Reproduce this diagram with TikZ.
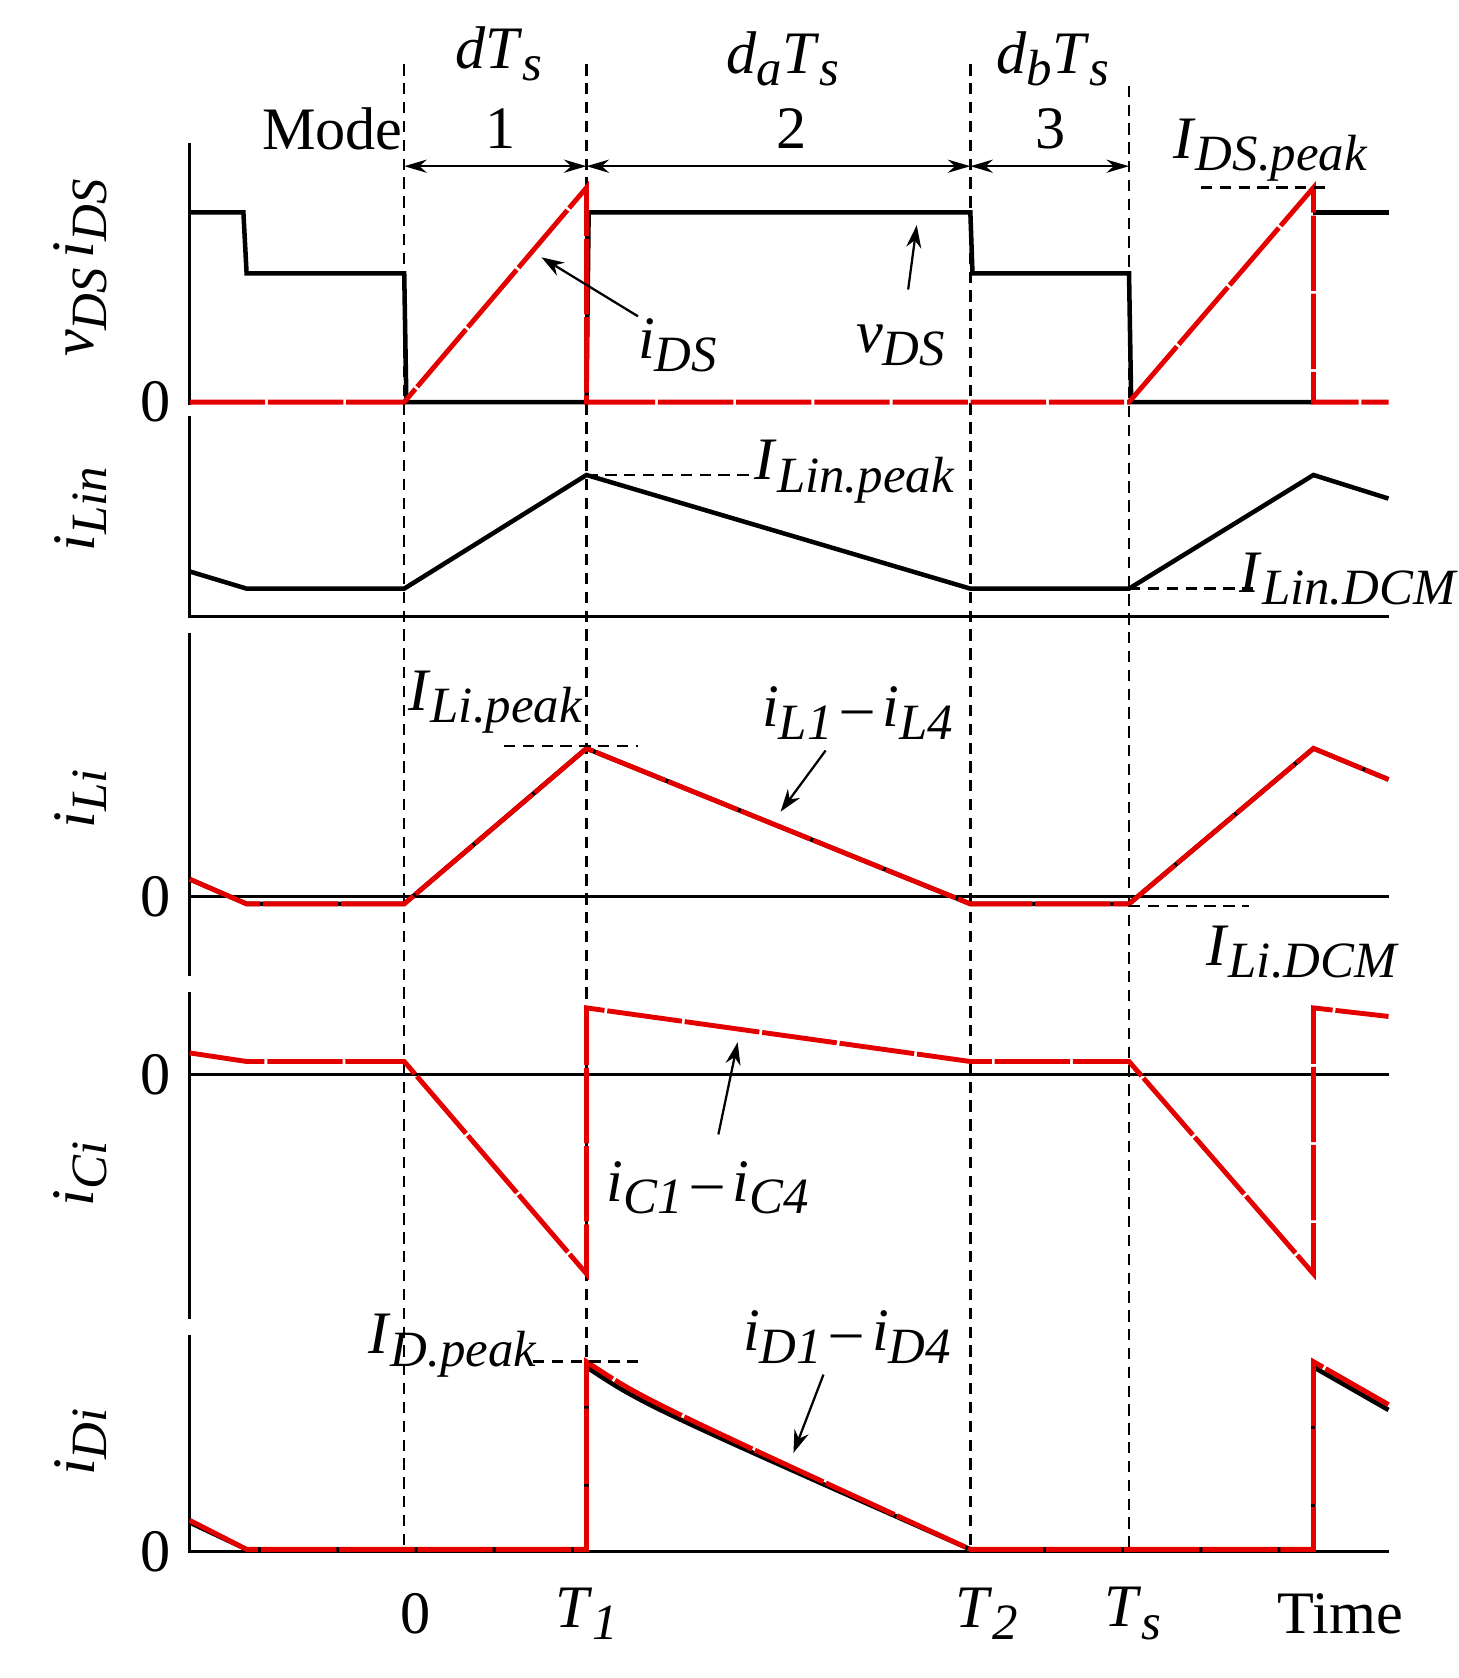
\documentclass[tikz,border=0pt]{standalone}
\usepackage{fontspec}
\setmainfont{Liberation Serif}
\usetikzlibrary{arrows.meta}
\newcommand{\myss}[2]{\textit{#1}\raisebox{-.45ex}{\fontsize{27}{29}\selectfont\textit{#2}}}
\begin{document}
\begin{tikzpicture}[x=0.02cm,y=-0.02cm,
 blk/.style={line width=2.4pt,black},
 red/.style={line width=2.6pt,red!90!black,dash pattern=on 40pt off 1.5pt},
 ax/.style={line width=1.6pt,black},
 zl/.style={line width=1.3pt,black},
 vd/.style={line width=1.3pt,black,dash pattern=on 6pt off 4pt},
 hd/.style={line width=1.3pt,black,dash pattern=on 6pt off 4pt},
 arr/.style={line width=1.2pt,-{Stealth[length=12pt,width=8pt]}},
 dim/.style={line width=1.2pt,{Stealth[length=12pt,width=7pt]}-{Stealth[length=12pt,width=7pt]}},
 lab/.style={font=\fontsize{32}{34}\selectfont, inner sep=0pt}]
\useasboundingbox (0,0) rectangle (1360,1565);
% axes
\draw[ax] (177,133)--(177,378);
\draw[ax] (177,388)--(177,575)--(1295,575);
\draw[ax] (177,590)--(177,910);
\draw[ax] (177,925)--(177,1230);
\draw[ax] (177,1245)--(177,1447)--(1295,1447);
\draw[zl] (177,836)--(1295,836);
\draw[zl] (177,1002)--(1295,1002);
% verticals
\foreach \x/\t in {377/60,547/60,905/60,1053/80} \draw[vd] (\x,\t)--(\x,1447);
% dims
\draw[dim] (377,155)--(547,155);
\draw[dim] (547,155)--(905,155);
\draw[dim] (905,155)--(1053,155);
\node[lab] at (465,50) {\myss{dT}{s}};
\node[lab] at (467,120) {1};
\node[lab] at (730,55) {\myss{d}{a}\myss{T}{s}};
\node[lab] at (738,120) {2};
\node[lab] at (982,55) {\myss{d}{b}\myss{T}{s}};
\node[lab] at (980,120) {3};
\node[lab] at (310,120) {Mode};
% panel 1
\draw[blk] (177,198)--(227,198)--(230,255)--(377,255)--(379,375)--(547,375);
\draw[blk] (547,375)--(549,198)--(905,198)--(907,255)--(1053,255)--(1055,375)--(1225,375);
\draw[blk] (1225,198)--(1295,198);
\draw[red] (177,375)--(377,375)--(547,175)--(547,375)--(1053,375)--(1225,175)--(1225,375)--(1295,375);
\draw[hd] (1120,175)--(1240,175);
\node[lab] at (1185,140) {\myss{I}{DS.peak}};
\node[lab] at (632,322) {\myss{i}{DS}};
\draw[arr] (595,295)--(505,240);
\node[lab] at (840,322) {\myss{v}{DS}};
\draw[arr] (847,270)--(855,210);
\node[lab,rotate=90] at (75,250) {\myss{v}{DS}\,\myss{i}{DS}};
\node[lab] at (145,375) {0};
% panel 2
\draw[blk] (177,533)--(230,549)--(377,549)--(547,443)--(905,549)--(1053,549)--(1225,443)--(1295,465);
\draw[hd] (547,443)--(700,443);
\draw[hd] (1053,549)--(1175,549);
\node[lab] at (797,440) {\myss{I}{Lin.peak}};
\node[lab] at (1258,540) {\myss{I}{Lin.DCM}};
\node[lab,rotate=90] at (75,475) {\myss{i}{Lin}};
% panel 3
\draw[blk] (177,820)--(230,843)--(377,843)--(547,698)--(905,843)--(1053,843)--(1225,698)--(1295,727);
\draw[red] (177,820)--(230,843)--(377,843)--(547,698)--(905,843)--(1053,843)--(1225,698)--(1295,727);
\draw[hd] (470,696)--(595,696);
\draw[hd] (1053,845)--(1165,845);
\node[lab] at (462,655) {\myss{I}{Li.peak}};
\node[lab] at (1215,888) {\myss{I}{Li.DCM}};
\node[lab] at (800,665) {\myss{i}{L1}\,--\,\myss{i}{L4}};
\draw[arr] (770,700)--(728,757);
\node[lab,rotate=90] at (75,745) {\myss{i}{Li}};
\node[lab] at (145,836) {0};
% panel 4
\draw[red] (177,982)--(230,990)--(377,990)--(547,1188)--(547,940)--(905,990)--(1053,990)--(1225,1188)--(1225,940)--(1295,948);
\node[lab] at (660,1108) {\myss{i}{C1}\,--\,\myss{i}{C4}};
\draw[arr] (670,1058)--(688,972);
\node[lab,rotate=90] at (75,1095) {\myss{i}{Ci}};
\node[lab] at (145,1002) {0};
% panel 5
\draw[blk] (177,1420)--(230,1445)--(547,1445)--(547,1275) .. controls (600,1310) .. (905,1445)--(1225,1445)--(1225,1275)--(1295,1315);
\draw[red] (177,1418)--(230,1445)--(547,1445)--(547,1270) .. controls (600,1305) .. (905,1445)--(1225,1445)--(1225,1270)--(1295,1310);
\draw[hd] (497,1270)--(597,1270);
\node[lab] at (422,1255) {\myss{I}{D.peak}};
\node[lab] at (790,1247) {\myss{i}{D1}\,--\,\myss{i}{D4}};
\draw[arr] (768,1282)--(740,1355);
\node[lab,rotate=90] at (75,1345) {\myss{i}{Di}};
\node[lab] at (145,1447) {0};
% bottom labels
\node[lab] at (388,1505) {0};
\node[lab] at (547,1505) {\myss{T}{1}};
\node[lab] at (920,1505) {\myss{T}{2}};
\node[lab] at (1057,1505) {\myss{T}{s}};
\node[lab] at (1250,1505) {Time};
\end{tikzpicture}
\end{document}
